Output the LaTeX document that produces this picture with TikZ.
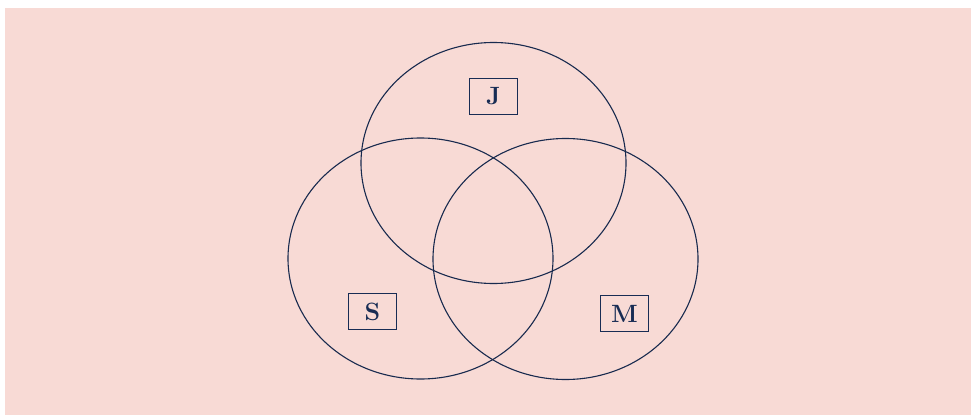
\documentclass[tikz,border=0pt]{standalone}
\usepackage{tikz}
\usetikzlibrary{
  backgrounds,
  shapes.geometric
}
\definecolor{vennnavy}{RGB}{24,42,78}
\definecolor{vennink}{RGB}{24,44,84}
\definecolor{vennpink}{RGB}{248,218,213}
\tikzset{
  setring/.style={draw=vennnavy,line width=1.1pt,ellipse,
    minimum width=265pt,minimum height=241pt,inner sep=0pt},
  setlab/.style={draw=vennink,line width=1.2pt,fill=none,
    minimum width=48pt,minimum height=36pt,inner sep=0pt,
    text=vennink,font=\bfseries\fontsize{25}{29}\selectfont}
}
\begin{document}
\begin{tikzpicture}[x=1pt,y=-1pt]
  \useasboundingbox (0,0) rectangle (971,415);
  \fill[vennpink] (5,8) rectangle (971,415);
  \node[setring] (jset) at (493.5,163) {};
  \node[setring] (sset) at (420.5,258.5) {};
  \node[setring] (mset) at (565.5,259) {};
  \node[setlab] (jlab) at (493.5,96.5) {J};
  \node[setlab] (slab) at (372.5,311.5) {S};
  \node[setlab] (mlab) at (624.5,313.5) {M};
\end{tikzpicture}
\end{document}
